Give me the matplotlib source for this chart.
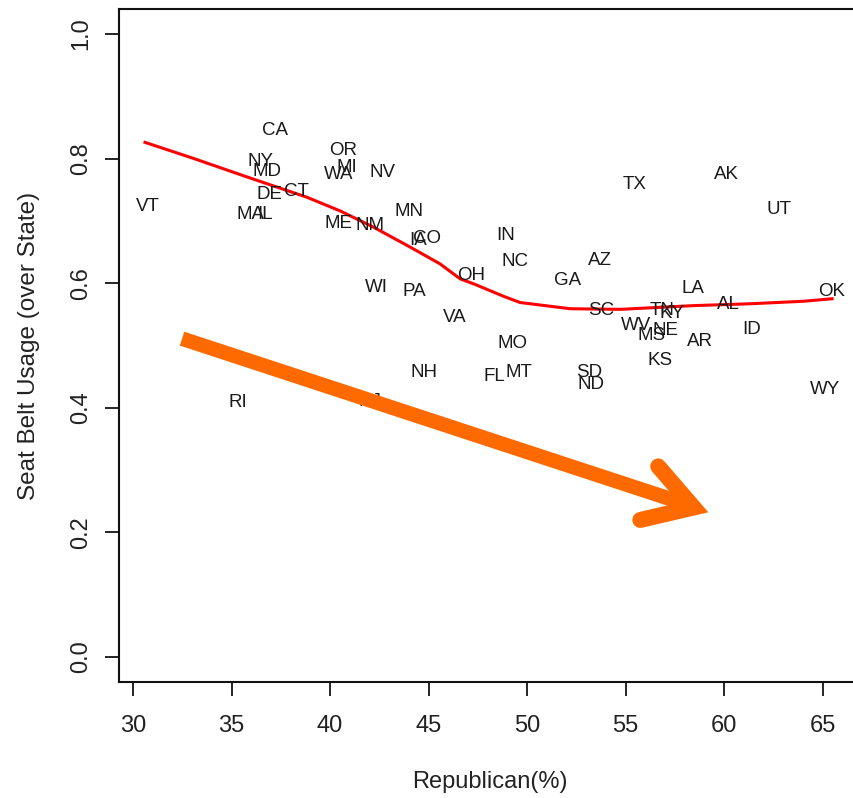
import matplotlib
matplotlib.use('Agg')
import matplotlib.pyplot as plt

plt.rcParams['font.family'] = ['Liberation Sans', 'DejaVu Sans']

# state labels, % republican vote, seat belt usage
states = ['CA', 'NY', 'MD', 'DE', 'CT', 'VT', 'MA', 'IL', 'OR', 'MI',
          'WA', 'NV', 'MN', 'ME', 'NM', 'IA', 'CO', 'OH', 'WI', 'PA',
          'VA', 'NH', 'RI', 'NJ', 'TX', 'AK', 'UT', 'IN', 'NC', 'AZ',
          'GA', 'LA', 'OK', 'SC', 'TN', 'KY', 'AL', 'WV', 'NE', 'MS',
          'ID', 'AR', 'MO', 'KS', 'FL', 'MT', 'SD', 'ND', 'WY']
republican = [37.21, 36.45, 36.79, 36.95, 38.31, 30.78, 35.94, 36.72, 40.68, 40.85,
              40.42, 42.67, 44.00, 40.42, 42.03, 44.48, 44.90, 47.16, 42.37, 44.28,
              46.31, 44.77, 35.31, 42.03, 55.45, 60.10, 62.76, 48.92, 49.39, 53.67,
              52.05, 58.39, 65.43, 53.76, 56.84, 57.34, 60.22, 55.53, 57.00, 56.33,
              61.37, 58.75, 49.25, 56.72, 48.34, 49.56, 53.16, 53.25, 65.09]
seatbelt = [0.845, 0.796, 0.779, 0.743, 0.747, 0.723, 0.710, 0.710, 0.8125, 0.786,
            0.774, 0.777, 0.715, 0.695, 0.692, 0.668, 0.671, 0.613, 0.593, 0.587,
            0.545, 0.456, 0.408, 0.410, 0.759, 0.774, 0.718, 0.677, 0.635, 0.637,
            0.605, 0.591, 0.587, 0.556, 0.556, 0.552, 0.566, 0.532, 0.524, 0.516,
            0.525, 0.507, 0.504, 0.476, 0.450, 0.457, 0.457, 0.437, 0.429]

# smoothed trend (lowess)
smooth_x = [30.61, 33.0, 36.11, 38.82, 40.51, 42.20, 44.06, 45.58, 46.60, 47.36,
            48.80, 49.64, 52.18, 54.72, 58.44, 61.35, 64.03, 65.47]
smooth_y = [0.826, 0.801, 0.767, 0.738, 0.716, 0.690, 0.658, 0.631, 0.607, 0.598,
            0.579, 0.569, 0.559, 0.558, 0.564, 0.567, 0.571, 0.575]

# hand-drawn arrow (data coords)
arrow_shaft_x = [32.49, 58.1]
arrow_shaft_y = [0.511, 0.245]
arrow_head_x = [56.65, 58.45, 55.74]
arrow_head_y = [0.306, 0.240, 0.220]

fig = plt.figure(figsize=(8.54, 7.98), dpi=100)
ax = fig.add_axes([0.1393, 0.1454, 0.868, 0.8433])

for s, x, y in zip(states, republican, seatbelt):
    ax.text(x, y, s, ha='center', va='center', fontsize=13.5, color='#1a1a1a')

ax.plot(smooth_x, smooth_y, color='red', lw=2.2)

ax.plot(arrow_shaft_x, arrow_shaft_y, color='#ff6a00', lw=10.5,
        solid_capstyle='butt', zorder=5)
ax.plot(arrow_head_x, arrow_head_y, color='#ff6a00', lw=11.5,
        solid_capstyle='round', solid_joinstyle='miter', zorder=5)

ax.set_xlim(29.29, 66.90)
ax.set_ylim(-0.04, 1.04)
ax.set_xticks([30, 35, 40, 45, 50, 55, 60, 65])
ax.set_yticks([0.0, 0.2, 0.4, 0.6, 0.8, 1.0])
ax.set_yticklabels(['0.0', '0.2', '0.4', '0.6', '0.8', '1.0'],
                   rotation=90, va='center')
ax.tick_params(direction='out', length=10, width=1.2, labelsize=17,
               labelcolor='#222222')
ax.tick_params(axis='x', pad=14)
ax.tick_params(axis='y', pad=9)
ax.set_xlabel('Republican(%)', fontsize=17, color='#222222', labelpad=24)
ax.set_ylabel('Seat Belt Usage (over State)', fontsize=17.5, color='#222222',
              labelpad=22)
for sp in ax.spines.values():
    sp.set_linewidth(1.5)
    sp.set_color('#111111')

fig.savefig('out.png', dpi=100)
